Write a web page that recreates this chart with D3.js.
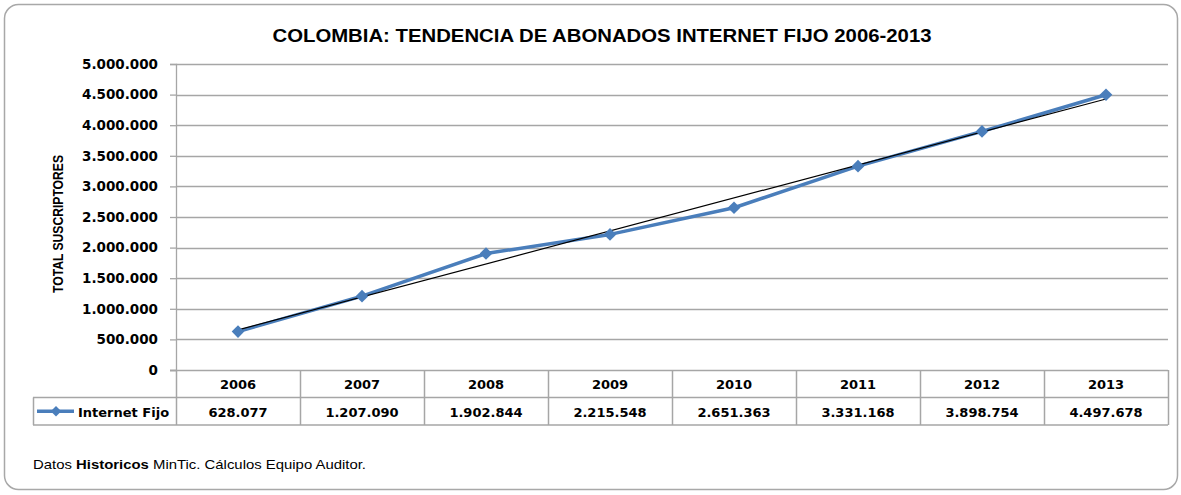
<!DOCTYPE html>
<html>
<head>
<meta charset="utf-8">
<script src="https://cdn.jsdelivr.net/npm/d3@7"></script>
<style>
  body { margin: 0; background: #fff; }
  text { fill: #000; }
</style>
</head>
<body>
<div id="chart"></div>
<script>
// Chart data
var years = ["2006", "2007", "2008", "2009", "2010", "2011", "2012", "2013"];
var internetFijo = [628077, 1207090, 1902844, 2215548, 2651363, 3331168, 3898754, 4497678];
var yTicks = [0, 500000, 1000000, 1500000, 2000000, 2500000, 3000000, 3500000, 4000000, 4500000, 5000000];
var seriesName = "Internet Fijo";

var width = 1181;
var height = 495;
var plotLeft = 176;
var plotRight = 1168;
var plotTop = 64;
var plotBottom = 370;
var rowH = 27.5;
var blue = "#4a7ebb";
var grid = "#a6a6a6";

var fmt = function(v) {
  return d3.format(",")(v).replace(/,/g, ".");
};

var svg = d3.select("#chart")
  .append("svg")
  .attr("width", width)
  .attr("height", height);

// outer frame
svg.append("rect")
  .attr("x", 4.5).attr("y", 4.5)
  .attr("width", 1173).attr("height", 485)
  .attr("rx", 14)
  .attr("fill", "#fff")
  .attr("stroke", "#a8a8a8")
  .attr("stroke-width", 1.5);

// Title
svg.append("text")
  .attr("x", 602).attr("y", 42)
  .attr("text-anchor", "middle")
  .attr("textLength", 659)
  .attr("lengthAdjust", "spacingAndGlyphs")
  .style("font-family", "'Liberation Sans', Arial, sans-serif")
  .style("font-weight", "bold")
  .style("font-size", "18px")
  .text("COLOMBIA: TENDENCIA DE ABONADOS INTERNET FIJO 2006-2013");

// Scales
var xScale = d3.scaleBand()
  .domain(years)
  .range([plotLeft, plotRight]);
var yScale = d3.scaleLinear()
  .domain([0, 5000000])
  .range([plotBottom, plotTop]);

// gridlines
svg.append("g")
  .selectAll("line")
  .data(yTicks.slice(1))
  .enter()
  .append("line")
  .attr("x1", plotLeft).attr("x2", plotRight)
  .attr("y1", function(d) { return Math.round(yScale(d)) + 0.5; })
  .attr("y2", function(d) { return Math.round(yScale(d)) + 0.5; })
  .attr("stroke", grid)
  .attr("stroke-width", 1.3);

// y axis
var yAxis = d3.axisLeft(yScale)
  .tickValues(yTicks)
  .tickSize(6)
  .tickPadding(12)
  .tickFormat(fmt);

var yG = svg.append("g")
  .attr("transform", "translate(" + plotLeft + ",0)")
  .call(yAxis);
yG.select(".domain").attr("stroke", grid).attr("stroke-width", 1.3);
yG.selectAll(".tick line").attr("stroke", grid).attr("stroke-width", 1.3);
yG.selectAll(".tick text")
  .style("font-family", "'DejaVu Sans', Verdana, sans-serif")
  .style("font-weight", "bold")
  .style("font-size", "13.5px")
  .attr("fill", "#000");

// y axis title
svg.append("text")
  .attr("transform", "translate(63,224)rotate(-90)")
  .attr("text-anchor", "middle")
  .attr("textLength", 138)
  .attr("lengthAdjust", "spacingAndGlyphs")
  .style("font-family", "'Liberation Sans Narrow', 'Arial Narrow', sans-serif")
  .style("font-weight", "bold")
  .style("font-size", "15px")
  .text("TOTAL SUSCRIPTORES");

// Data table
var table = svg.append("g").attr("class", "table");
var tableFont = "'DejaVu Sans', Verdana, sans-serif";

// horizontal lines
table.append("line")
  .attr("x1", plotLeft - 6).attr("x2", plotRight)
  .attr("y1", plotBottom + 0.5).attr("y2", plotBottom + 0.5)
  .attr("stroke", grid).attr("stroke-width", 1.5);
table.append("line")
  .attr("x1", 33).attr("x2", plotRight)
  .attr("y1", plotBottom + rowH).attr("y2", plotBottom + rowH)
  .attr("stroke", grid).attr("stroke-width", 1.5);
table.append("line")
  .attr("x1", 33).attr("x2", plotRight)
  .attr("y1", plotBottom + rowH * 2).attr("y2", plotBottom + rowH * 2)
  .attr("stroke", grid).attr("stroke-width", 1.5);
table.append("line")
  .attr("x1", 33.5).attr("x2", 33.5)
  .attr("y1", plotBottom + rowH).attr("y2", plotBottom + rowH * 2)
  .attr("stroke", grid).attr("stroke-width", 1.5);

// vertical separators
var seps = years.map(function(y) { return xScale(y); }).concat([plotRight]);
table.selectAll("line.sep")
  .data(seps)
  .enter()
  .append("line")
  .attr("class", "sep")
  .attr("x1", function(d) { return Math.round(d) + 0.5; })
  .attr("x2", function(d) { return Math.round(d) + 0.5; })
  .attr("y1", plotBottom).attr("y2", plotBottom + rowH * 2)
  .attr("stroke", grid).attr("stroke-width", 1.5);

table.selectAll("text.year")
  .data(years)
  .enter()
  .append("text")
  .attr("class", "year")
  .attr("x", function(d) { return xScale(d) + xScale.bandwidth() / 2; })
  .attr("y", plotBottom + 19)
  .attr("text-anchor", "middle")
  .style("font-family", tableFont)
  .style("font-weight", "bold")
  .style("font-size", "13px")
  .text(function(d) { return d; });

table.selectAll("text.val")
  .data(internetFijo)
  .enter()
  .append("text")
  .attr("class", "val")
  .attr("x", function(d, i) { return xScale(years[i]) + xScale.bandwidth() / 2; })
  .attr("y", plotBottom + rowH + 19)
  .attr("text-anchor", "middle")
  .style("font-family", tableFont)
  .style("font-weight", "bold")
  .style("font-size", "13px")
  .text(function(d) { return fmt(d); });

// legend key in table
var legY = plotBottom + rowH * 1.5;
table.append("line")
  .attr("x1", 37).attr("x2", 74)
  .attr("y1", legY).attr("y2", legY)
  .attr("stroke", blue).attr("stroke-width", 3.5);
table.append("path")
  .attr("d", d3.symbol().type(d3.symbolSquare).size(55)())
  .attr("transform", "translate(56," + legY + ")rotate(45)")
  .attr("fill", blue);
table.append("text")
  .attr("x", 78).attr("y", plotBottom + rowH + 19)
  .style("font-family", tableFont)
  .style("font-weight", "bold")
  .style("font-size", "13px")
  .text(seriesName);

// Series line
var cx = function(i) { return xScale(years[i]) + xScale.bandwidth() / 2; };
var line = d3.line()
  .x(function(d, i) { return cx(i); })
  .y(function(d) { return yScale(d); });

svg.append("path")
  .datum(internetFijo)
  .attr("d", line)
  .attr("fill", "none")
  .attr("stroke", blue)
  .attr("stroke-width", 3.5)
  .attr("stroke-linejoin", "round");

// Linear trendline (least squares, like Excel)
var n = internetFijo.length;
var mx = d3.mean(internetFijo, function(d, i) { return i; });
var my = d3.mean(internetFijo);
var slope = d3.sum(internetFijo, function(d, i) { return (i - mx) * (d - my); }) /
  d3.sum(internetFijo, function(d, i) { return (i - mx) * (i - mx); });
var icpt = my - slope * mx;

svg.append("line")
  .attr("x1", cx(0)).attr("y1", yScale(icpt))
  .attr("x2", cx(n - 1)).attr("y2", yScale(icpt + slope * (n - 1)))
  .attr("stroke", "#000")
  .attr("stroke-width", 1.2);

// markers
svg.selectAll("path.marker")
  .data(internetFijo)
  .enter()
  .append("path")
  .attr("class", "marker")
  .attr("d", d3.symbol().type(d3.symbolSquare).size(80)())
  .attr("transform", function(d, i) { return "translate(" + cx(i) + "," + yScale(d) + ")rotate(45)"; })
  .attr("fill", blue);

// footnote
var foot = svg.append("text")
  .attr("x", 33).attr("y", 469)
  .attr("textLength", 333)
  .attr("lengthAdjust", "spacingAndGlyphs")
  .style("font-family", "'Liberation Sans', Arial, sans-serif")
  .style("font-size", "13.5px");
foot.append("tspan").text("Datos ");
foot.append("tspan").style("font-weight", "bold").text("Historicos");
foot.append("tspan").text(" MinTic. Cálculos Equipo Auditor.");
</script>
</body>
</html>
